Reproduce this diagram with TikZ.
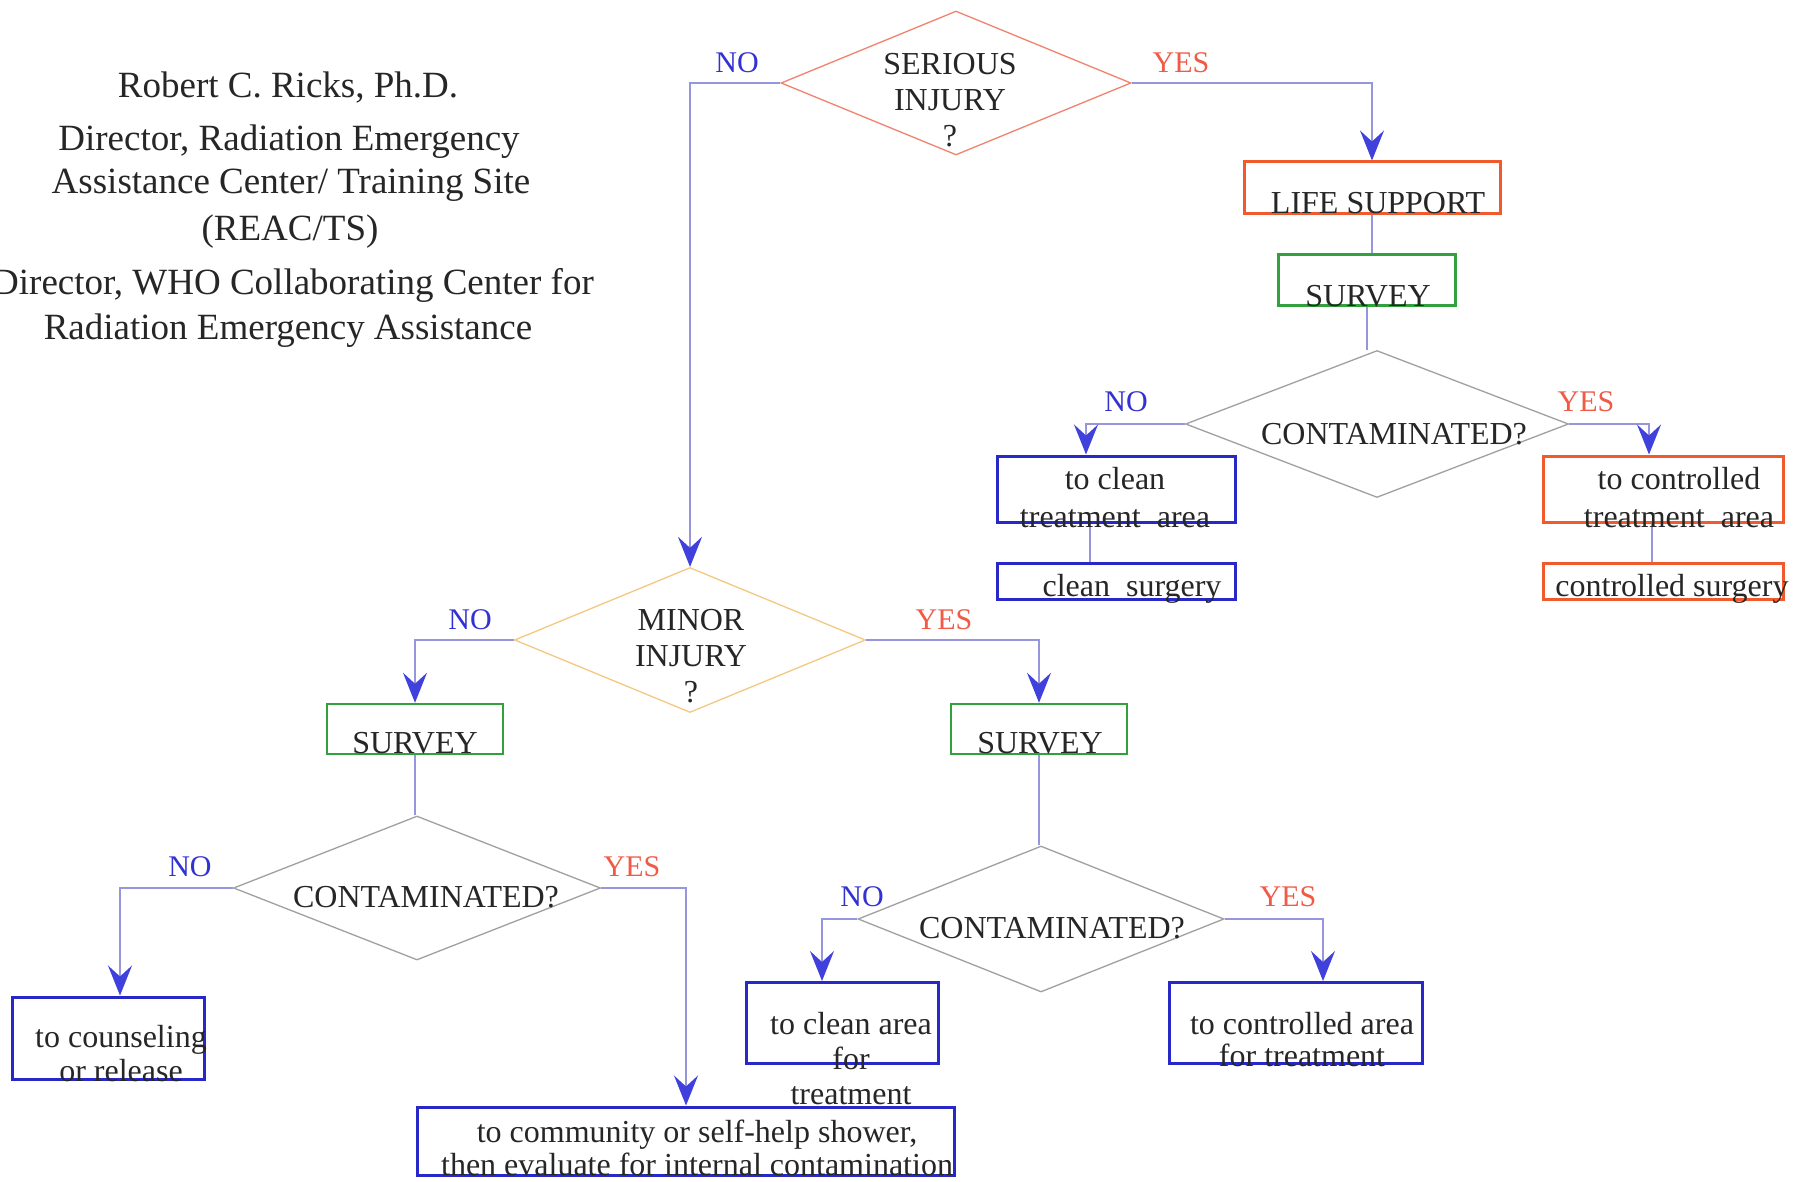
\documentclass[tikz,border=0pt]{standalone}
\usepackage{fontspec}
\setmainfont{Liberation Serif}
\usetikzlibrary{shapes.geometric,arrows.meta}
\definecolor{lineblue}{RGB}{150,150,222}
\definecolor{arrowblue}{RGB}{64,64,220}
\definecolor{boxblue}{RGB}{40,40,200}
\definecolor{boxgreen}{RGB}{50,160,60}
\definecolor{boxorange}{RGB}{240,90,45}
\definecolor{noblue}{RGB}{50,50,210}
\definecolor{yesred}{RGB}{240,90,70}
\definecolor{dserious}{RGB}{240,130,110}
\definecolor{dminor}{RGB}{245,200,130}
\definecolor{dgray}{RGB}{160,160,160}
\begin{document}
\begin{tikzpicture}[x=1pt,y=-1pt,
  conn/.style={draw=lineblue, line width=1.5pt},
  arr/.style={conn, -{Stealth[length=30pt,width=24pt,inset=11pt,color=arrowblue]}},
  box/.style={draw, rectangle, line width=3pt, inner sep=0pt},
  bluebox/.style={box, draw=boxblue},
  greenbox/.style={box, draw=boxgreen, line width=2.5pt},
  orangebox/.style={box, draw=boxorange},
  dec/.style={diamond, draw, line width=1.3pt, inner sep=0pt},
  txt/.style={font=\fontsize{32}{36}\selectfont, align=center, inner sep=0pt, text=black!85},
  head/.style={font=\fontsize{37}{44}\selectfont, inner sep=0pt, text=black!85},
  nolab/.style={font=\fontsize{30}{36}\selectfont, text=noblue, inner sep=0pt},
  yeslab/.style={font=\fontsize{30}{36}\selectfont, text=yesred, inner sep=0pt},
]
\useasboundingbox[fill=white] (0,0) rectangle (1806,1182);

% decisions
\node[dec, draw=dserious, minimum width=350pt, minimum height=144pt] (serious) at (956,83) {};
\node[dec, draw=dminor, minimum width=351pt, minimum height=145pt] (minor) at (690,640) {};
\node[dec, draw=dgray, minimum width=383pt, minimum height=147pt] (c1) at (1377,424) {};
\node[dec, draw=dgray, minimum width=367pt, minimum height=144pt] (c2) at (417,888) {};
\node[dec, draw=dgray, minimum width=366pt, minimum height=146pt] (c3) at (1041,919) {};

% boxes
\node[orangebox, minimum width=256pt, minimum height=52pt] (life) at (1372,188) {};
\node[greenbox, minimum width=177pt, minimum height=51pt] (sv1) at (1367,280) {};
\node[bluebox, minimum width=238pt, minimum height=66pt] (cta) at (1116,489) {};
\node[bluebox, minimum width=238pt, minimum height=36pt] (cs) at (1116,581) {};
\node[orangebox, minimum width=240pt, minimum height=66pt] (ctrta) at (1663,489) {};
\node[orangebox, minimum width=240pt, minimum height=36pt] (ctrs) at (1663,581) {};
\node[greenbox, minimum width=176pt, minimum height=50pt] (sv2) at (415,729) {};
\node[greenbox, minimum width=176pt, minimum height=50pt] (sv3) at (1039,729) {};
\node[bluebox, minimum width=192pt, minimum height=82pt] (couns) at (108,1038) {};
\node[bluebox, minimum width=537pt, minimum height=68pt] (shower) at (686,1141) {};
\node[bluebox, minimum width=192pt, minimum height=81pt] (clean) at (842,1023) {};
\node[bluebox, minimum width=253pt, minimum height=81pt] (ctrl) at (1296,1023) {};

% connectors
\draw[arr] (serious.west) -| (minor.north);
\draw[arr] (serious.east) -| (life.north);
\draw[conn] (life.south) -- (life.south |- sv1.north);
\draw[conn] (sv1.south) -- (sv1.south |- c1.north);
\draw[arr] (c1.west) -| ([xshift=-30pt]cta.north);
\draw[conn] ([xshift=-26pt]cta.south) -- ([xshift=-26pt]cs.north);
\draw[arr] (c1.east) -| ([xshift=-14pt]ctrta.north);
\draw[conn] ([xshift=-11pt]ctrta.south) -- ([xshift=-11pt]ctrs.north);
\draw[arr] (minor.west) -| (sv2.north);
\draw[arr] (minor.east) -| (sv3.north);
\draw[conn] (sv2.south) -- (sv2.south |- c2.north);
\draw[conn] (sv3.south) -- (sv3.south |- c3.north);
\draw[arr] (c2.west) -| ([xshift=12pt]couns.north);
\draw[arr] (c2.east) -| (shower.north);
\draw[arr] (c3.west) -| ([xshift=-20pt]clean.north);
\draw[arr] (c3.east) -| ([xshift=27pt]ctrl.north);

% texts
\node[txt] (t-serious) at (950,100) {SERIOUS\\INJURY\\?};
\node[txt] (t-minor) at (691,656) {MINOR\\INJURY\\?};
\node[txt] (t-c1) at (1394,434) {CONTAMINATED?};
\node[txt] (t-c2) at (426,897) {CONTAMINATED?};
\node[txt] (t-c3) at (1052,928) {CONTAMINATED?};
\node[txt] (t-life) at (1378,203) {LIFE SUPPORT};
\node[txt] (t-sv1) at (1368,296) {SURVEY};
\node[txt] (t-sv2) at (415,743) {SURVEY};
\node[txt] (t-sv3) at (1040,743) {SURVEY};
\node[txt, font=\fontsize{32}{38}\selectfont] (t-cta) at (1115,498) {to clean\\treatment~~area};
\node[txt] (t-cs) at (1132,589) {clean~~surgery};
\node[txt, font=\fontsize{32}{38}\selectfont] (t-ctrta) at (1679,498) {to controlled\\treatment~~area};
\node[txt] (t-ctrs) at (1672,589) {controlled surgery};
\node[txt, font=\fontsize{32}{34}\selectfont] (t-couns) at (121,1054) {to counseling\\or release};
\node[txt, font=\fontsize{32}{33}\selectfont] (t-shower) at (697,1148) {to community or self-help shower,\\then evaluate for internal contamination};
\node[txt, font=\fontsize{32}{35}\selectfont] (t-clean) at (851,1059) {to clean area\\for\\treatment};
\node[txt, font=\fontsize{32}{32}\selectfont] (t-ctrl) at (1302,1040) {to controlled area\\for treatment};

% yes / no labels
\node[nolab] (no1) at (737,63) {NO};
\node[yeslab] (yes1) at (1181,63) {YES};
\node[nolab] (no2) at (1126,402) {NO};
\node[yeslab] (yes2) at (1586,402) {YES};
\node[nolab] (no3) at (470,620) {NO};
\node[yeslab] (yes3) at (944,620) {YES};
\node[nolab] (no4) at (190,867) {NO};
\node[yeslab] (yes4) at (632,867) {YES};
\node[nolab] (no5) at (862,897) {NO};
\node[yeslab] (yes5) at (1288,897) {YES};

% heading
\node[head] (h1) at (288,88) {Robert C. Ricks, Ph.D.};
\node[head] (h2) at (289,142) {Director, Radiation Emergency};
\node[head] (h3) at (291,185) {Assistance Center/ Training Site};
\node[head] (h4) at (290,232) {(REAC/TS)};
\node[head] (h5) at (293,285) {Director, WHO Collaborating Center for};
\node[head] (h6) at (288,331) {Radiation Emergency Assistance};
\end{tikzpicture}
\end{document}
